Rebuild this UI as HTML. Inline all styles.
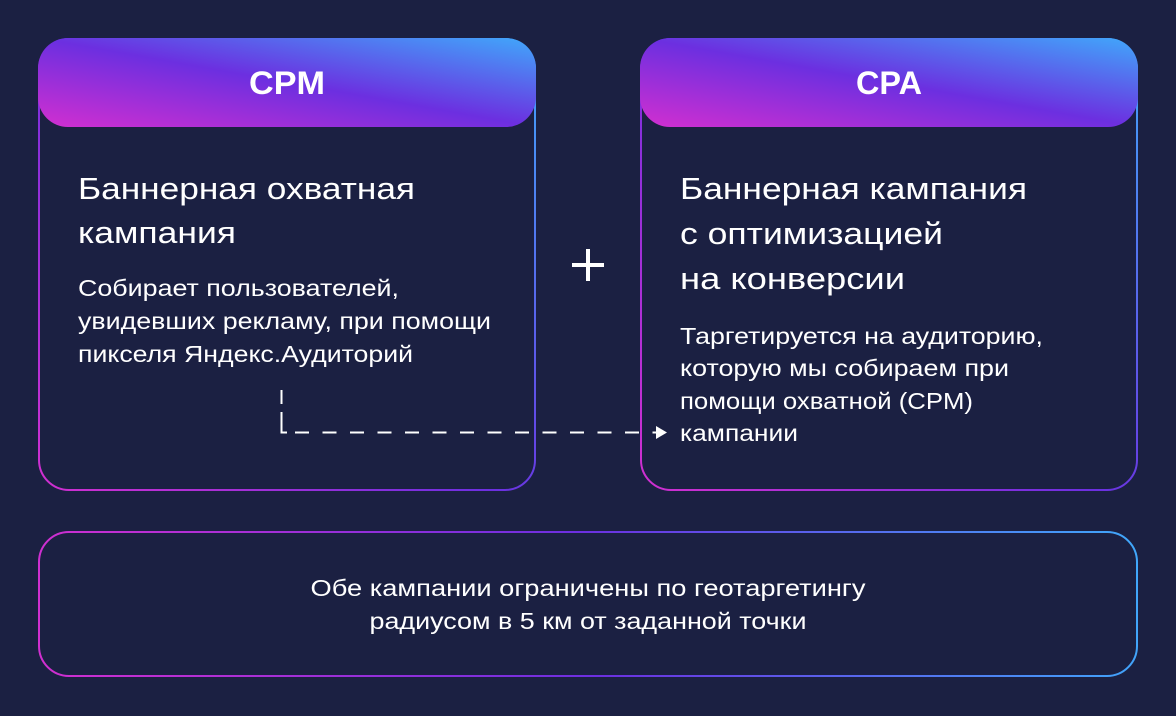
<!DOCTYPE html>
<html><head><meta charset="utf-8"><style>
html,body{margin:0;padding:0;background:#1b2042;}
svg{display:block}
text{font-family:"Liberation Sans","DejaVu Sans",sans-serif;fill:#fff}
</style></head><body>
<svg width="1176" height="716" viewBox="0 0 1176 716" xmlns="http://www.w3.org/2000/svg">
<defs>
<linearGradient id="g" x1="0" y1="1" x2="1" y2="0">
<stop offset="0" stop-color="#d22fd0"/>
<stop offset="0.5" stop-color="#6c2fe0"/>
<stop offset="1" stop-color="#40a8fb"/>
</linearGradient>
<linearGradient id="gb" gradientUnits="userSpaceOnUse" x1="38" y1="491" x2="535" y2="38">
<stop offset="0" stop-color="#d22fd0"/>
<stop offset="0.5" stop-color="#6c2fe0"/>
<stop offset="1" stop-color="#40a8fb"/>
</linearGradient>
<linearGradient id="gb2" gradientUnits="userSpaceOnUse" x1="640" y1="491" x2="1138" y2="38">
<stop offset="0" stop-color="#d22fd0"/>
<stop offset="0.5" stop-color="#6c2fe0"/>
<stop offset="1" stop-color="#40a8fb"/>
</linearGradient>
<linearGradient id="gb3" gradientUnits="userSpaceOnUse" x1="38" y1="677" x2="1138" y2="531">
<stop offset="0" stop-color="#d22fd0"/>
<stop offset="0.5" stop-color="#6c2fe0"/>
<stop offset="1" stop-color="#40a8fb"/>
</linearGradient>
</defs>
<rect width="1176" height="716" fill="#1b2042"/>
<!-- left box -->
<rect x="39" y="39" width="496" height="451" rx="30" fill="none" stroke="url(#gb)" stroke-width="2"/>
<rect x="38" y="38" width="498" height="89" rx="30" fill="url(#g)"/>
<text x="287" y="94" font-size="32" font-weight="bold" text-anchor="middle" textLength="76" lengthAdjust="spacingAndGlyphs">CPM</text>
<text x="78" y="199" font-size="31" textLength="337" lengthAdjust="spacingAndGlyphs">Баннерная охватная</text>
<text x="78" y="243" font-size="31" textLength="158" lengthAdjust="spacingAndGlyphs">кампания</text>
<text x="78" y="296" font-size="23" textLength="321" lengthAdjust="spacingAndGlyphs">Собирает пользователей,</text>
<text x="78" y="329" font-size="23" textLength="413" lengthAdjust="spacingAndGlyphs">увидевших рекламу, при помощи</text>
<text x="78" y="362" font-size="23" textLength="335" lengthAdjust="spacingAndGlyphs">пикселя Яндекс.Аудиторий</text>
<!-- right box -->
<rect x="641" y="39" width="496" height="451" rx="30" fill="none" stroke="url(#gb2)" stroke-width="2"/>
<rect x="640" y="38" width="498" height="89" rx="30" fill="url(#g)"/>
<text x="889" y="94" font-size="32" font-weight="bold" text-anchor="middle" textLength="66" lengthAdjust="spacingAndGlyphs">CPA</text>
<text x="680" y="199" font-size="31" textLength="347" lengthAdjust="spacingAndGlyphs">Баннерная кампания</text>
<text x="680" y="244" font-size="31" textLength="263" lengthAdjust="spacingAndGlyphs">с оптимизацией</text>
<text x="680" y="289" font-size="31" textLength="225" lengthAdjust="spacingAndGlyphs">на конверсии</text>
<text x="680" y="344" font-size="23" textLength="363" lengthAdjust="spacingAndGlyphs">Таргетируется на аудиторию,</text>
<text x="680" y="376" font-size="23" textLength="329" lengthAdjust="spacingAndGlyphs">которую мы собираем при</text>
<text x="680" y="409" font-size="23" textLength="293" lengthAdjust="spacingAndGlyphs">помощи охватной (CPM)</text>
<text x="680" y="441" font-size="23" textLength="118" lengthAdjust="spacingAndGlyphs">кампании</text>
<!-- plus -->
<rect x="572" y="263" width="32" height="4" fill="#fff"/>
<rect x="586" y="249" width="4" height="32" fill="#fff"/>
<!-- dashed connector -->
<path d="M281.5 390 V404 M281.5 412 V426" fill="none" stroke="#fff" stroke-width="2"/>
<path d="M281.5 426 V432.5 H287" fill="none" stroke="#fff" stroke-width="2"/>
<path d="M295 432.5 H656" fill="none" stroke="#fff" stroke-width="2" stroke-dasharray="14 13.5"/>
<polygon points="656,426 667,432.5 656,439" fill="#fff"/>
<!-- bottom box -->
<rect x="39" y="532" width="1098" height="144" rx="30" fill="none" stroke="url(#gb3)" stroke-width="2"/>
<text x="588" y="596" font-size="23" text-anchor="middle" textLength="555" lengthAdjust="spacingAndGlyphs">Обе кампании ограничены по геотаргетингу</text>
<text x="588" y="629" font-size="23" text-anchor="middle" textLength="437" lengthAdjust="spacingAndGlyphs">радиусом в 5 км от заданной точки</text>
</svg>
</body></html>
